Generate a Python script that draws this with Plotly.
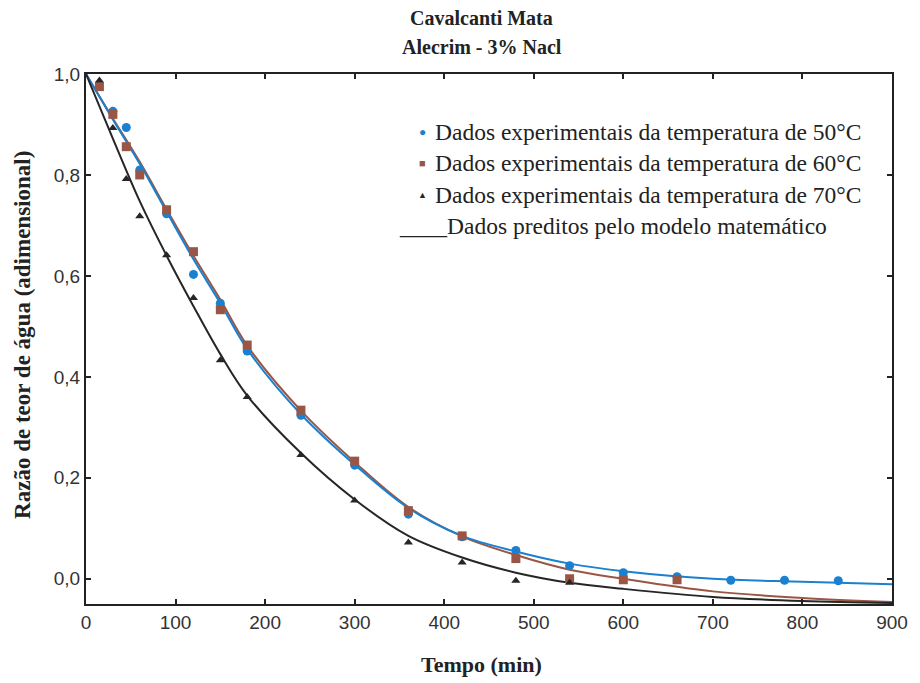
import plotly.graph_objects as go

# Experimental data (time in min, moisture ratio)
t50 = [30, 45, 60, 90, 120, 150, 180, 240, 300, 360, 420, 480, 540, 600, 660, 720, 780, 840]
mr50 = [0.926, 0.894, 0.810, 0.723, 0.603, 0.546, 0.451, 0.324, 0.225, 0.128, 0.083, 0.056, 0.026, 0.012, 0.004, -0.003, -0.003, -0.004]

t60 = [15, 30, 45, 60, 90, 120, 150, 180, 240, 300, 360, 420, 480, 540, 600, 660]
mr60 = [0.975, 0.920, 0.856, 0.800, 0.731, 0.648, 0.533, 0.463, 0.334, 0.233, 0.135, 0.085, 0.040, 0.000, -0.002, -0.002]

t70 = [15, 30, 45, 60, 90, 120, 150, 180, 240, 300, 360, 420, 480, 540]
mr70 = [0.987, 0.893, 0.792, 0.718, 0.641, 0.556, 0.433, 0.360, 0.245, 0.155, 0.072, 0.032, -0.004, -0.008]

# Predicted model curves
tc = [0, 30, 60, 90, 120, 150, 180, 240, 300, 360, 420, 480, 540, 600, 700, 800, 900]
pred50 = [1.0, 0.910, 0.822, 0.727, 0.633, 0.546, 0.455, 0.326, 0.226, 0.140, 0.085, 0.054, 0.030, 0.015, 0.000, -0.006, -0.011]
pred60 = [1.0, 0.912, 0.826, 0.732, 0.640, 0.553, 0.462, 0.333, 0.231, 0.142, 0.084, 0.047, 0.018, 0.000, -0.025, -0.038, -0.046]
pred70 = [1.0, 0.872, 0.748, 0.640, 0.540, 0.445, 0.363, 0.249, 0.157, 0.085, 0.042, 0.012, -0.008, -0.020, -0.036, -0.044, -0.048]

legend_labels = [
    "Dados experimentais da temperatura de 50°C",
    "Dados experimentais da temperatura de 60°C",
    "Dados experimentais da temperatura de 70°C",
    "____Dados preditos pelo modelo matemático",
]

BLUE = "#1a80cf"
BROWN = "#9a5645"
BLACK = "#262626"
SERIF = "Liberation Serif, Times New Roman, serif"
SANS = "Liberation Sans, Arial, sans-serif"

fig = go.Figure()
for tt, yy, col in [(tc, pred60, BROWN), (tc, pred50, BLUE), (tc, pred70, BLACK)]:
    fig.add_trace(go.Scatter(x=tt, y=yy, mode="lines", line=dict(color=col, width=2, shape="spline", smoothing=1.0),
                             showlegend=False, hoverinfo="skip"))

fig.add_trace(go.Scatter(x=t50, y=mr50, mode="markers", marker=dict(symbol="circle", size=9, color=BLUE),
                         showlegend=False))
fig.add_trace(go.Scatter(x=t60, y=mr60, mode="markers", marker=dict(symbol="square", size=9, color=BROWN),
                         showlegend=False))
fig.add_trace(go.Scatter(x=t70, y=mr70, mode="markers", marker=dict(symbol="triangle-up", size=8, color=BLACK),
                         showlegend=False))

# Plot area geometry in pixels
L, R, T, B = 86, 903, 74, 604
W, H = 920, 683

def px_x(x):
    return (x - L) / (R - L)

def px_y(y):
    return (B - y) / (B - T)

annotations = []
# Titles
annotations.append(dict(text="<b>Cavalcanti Mata</b>", x=px_x(487), y=px_y(18), xref="paper", yref="paper",
                        xanchor="center", yanchor="middle", showarrow=False,
                        font=dict(family=SERIF, size=20, color="#222")))
annotations.append(dict(text="<b>Alecrim - 3% Nacl</b>", x=px_x(487), y=px_y(47), xref="paper", yref="paper",
                        xanchor="center", yanchor="middle", showarrow=False,
                        font=dict(family=SERIF, size=20, color="#222")))
# Axis titles
annotations.append(dict(text="<b>Tempo (min)</b>", x=px_x(487), y=px_y(664), xref="paper", yref="paper",
                        xanchor="center", yanchor="middle", showarrow=False,
                        font=dict(family=SERIF, size=22, color="#222")))
annotations.append(dict(text="<b>Razão de teor de água (adimensional)</b>", x=px_x(21), y=px_y(335),
                        xref="paper", yref="paper", xanchor="center", yanchor="middle", showarrow=False,
                        textangle=-90, font=dict(family=SERIF, size=23, color="#222")))

# Legend (text with symbols)
sym = [("●", BLUE, 12), ("■", BROWN, 11), ("▲", BLACK, 9)]
leg_y = [132, 163, 195, 226]
for i in range(3):
    s, c, sz = sym[i]
    annotations.append(dict(text=s, x=px_x(427), y=px_y(leg_y[i]), xref="paper", yref="paper",
                            xanchor="center", yanchor="middle", showarrow=False,
                            font=dict(family=SANS, size=sz, color=c)))
    annotations.append(dict(text=legend_labels[i], x=px_x(438), y=px_y(leg_y[i]), xref="paper", yref="paper",
                            xanchor="left", yanchor="middle", showarrow=False,
                            font=dict(family=SERIF, size=23.5, color="#222")))
annotations.append(dict(text=legend_labels[3], x=px_x(401), y=px_y(leg_y[3]), xref="paper", yref="paper",
                        xanchor="left", yanchor="middle", showarrow=False,
                        font=dict(family=SERIF, size=23.5, color="#222")))

fig.update_layout(
    width=W, height=H,
    margin=dict(l=L, r=W - R, t=T, b=H - B),
    paper_bgcolor="white", plot_bgcolor="white",
    separators=",.",
    showlegend=False,
    annotations=annotations,
    xaxis=dict(range=[0, 900], tickvals=[0, 100, 200, 300, 400, 500, 600, 700, 800, 900],
               ticks="inside", ticklen=5, tickwidth=1.5, tickcolor="#222",
               showline=True, linecolor="#222", linewidth=2, mirror="ticks",
               showgrid=False, zeroline=False, ticklabeloverflow="allow",
               tickfont=dict(family=SANS, size=19, color="#333")),
    yaxis=dict(range=[-0.05, 1.0], tickvals=[0, 0.2, 0.4, 0.6, 0.8, 1.0], tickformat=".1f",
               ticks="inside", ticklen=5, tickwidth=1.5, tickcolor="#222",
               showline=True, linecolor="#222", linewidth=2, mirror="ticks",
               showgrid=False, zeroline=False,
               tickfont=dict(family=SANS, size=19, color="#333")),
)

fig.write_html("out.html")
